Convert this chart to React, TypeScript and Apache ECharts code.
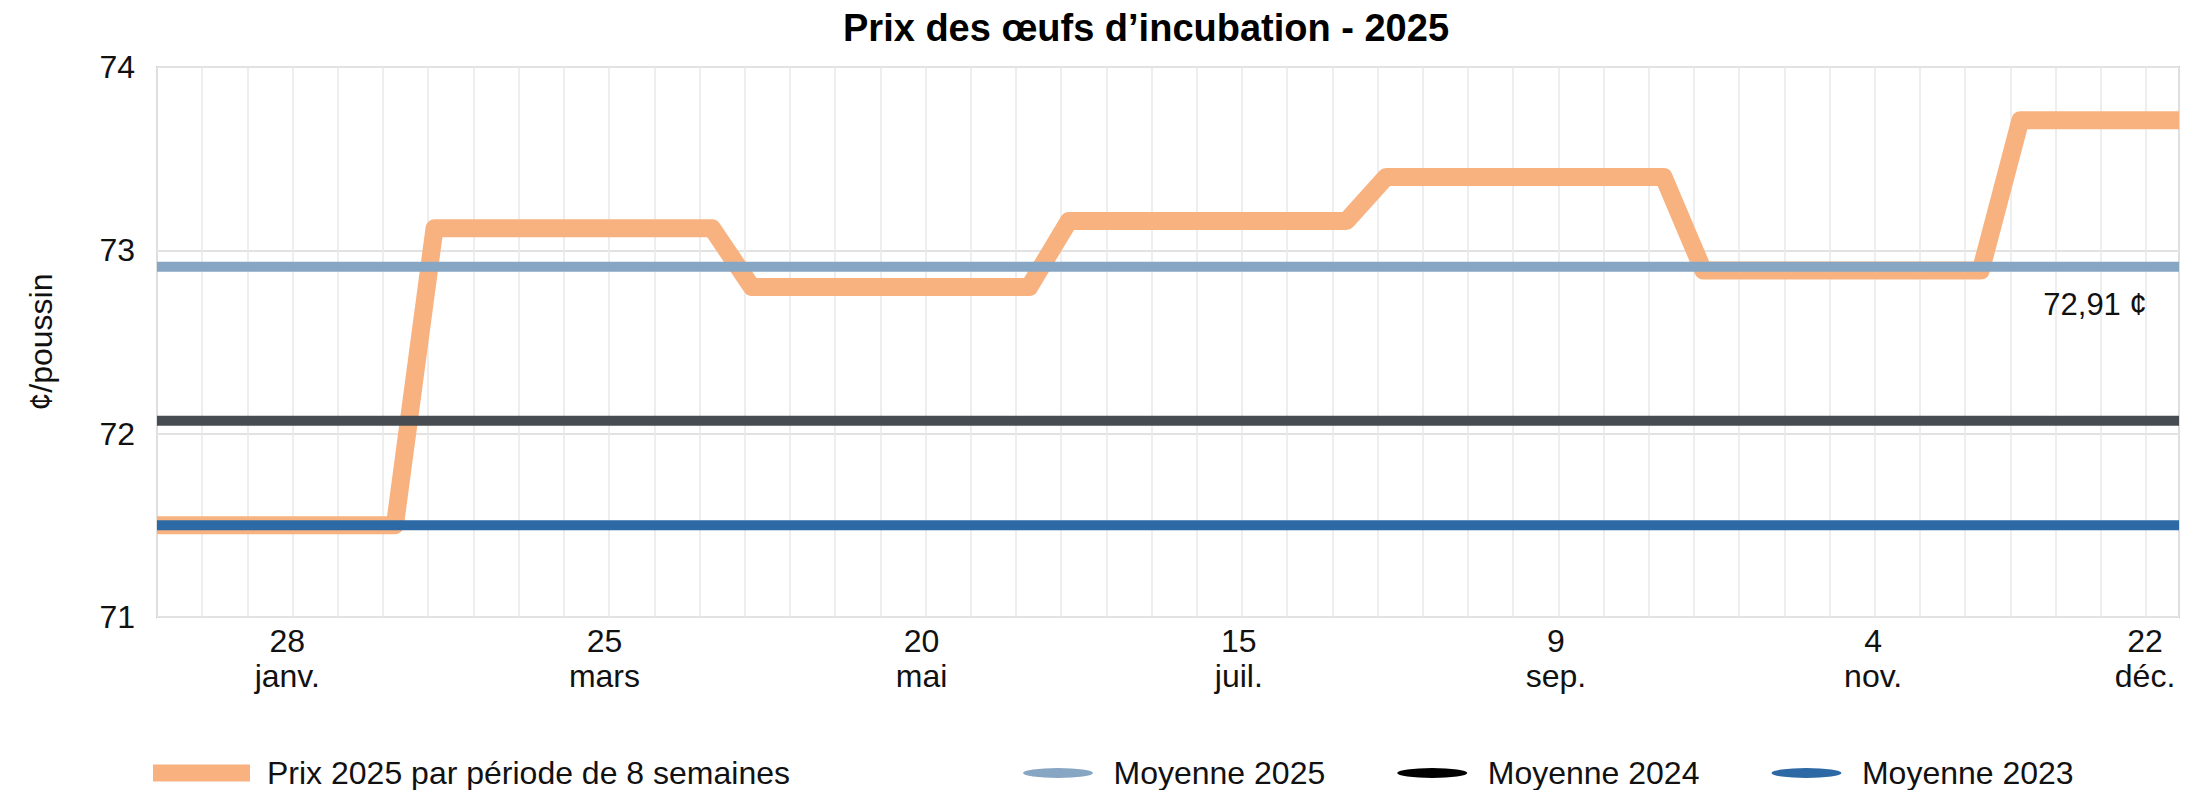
import React, { useEffect, useRef } from "react";
import * as echarts from "echarts";

// Weekly dates (2025)
const weekDates = [
  "2025-01-05", "2025-01-12", "2025-01-19", "2025-01-26",
  "2025-02-02", "2025-02-09", "2025-02-16", "2025-02-23",
  "2025-03-02", "2025-03-09", "2025-03-16", "2025-03-23", "2025-03-30",
  "2025-04-06", "2025-04-13", "2025-04-20", "2025-04-27",
  "2025-05-04", "2025-05-11", "2025-05-18", "2025-05-25",
  "2025-06-01", "2025-06-08", "2025-06-15", "2025-06-22", "2025-06-29",
  "2025-07-06", "2025-07-13", "2025-07-20", "2025-07-27",
  "2025-08-03", "2025-08-10", "2025-08-17", "2025-08-24", "2025-08-31",
  "2025-09-07", "2025-09-14", "2025-09-21", "2025-09-28",
  "2025-10-05", "2025-10-12", "2025-10-19", "2025-10-26",
  "2025-11-02", "2025-11-09", "2025-11-16", "2025-11-23", "2025-11-30",
  "2025-12-07", "2025-12-14", "2025-12-21", "2025-12-28",
];

// Price 2025 per 8-week period (¢/poussin), one value per week
const prices2025 = [
  71.5, 71.5, 71.5, 71.5, 71.5, 71.5, 71.5,
  73.12, 73.12, 73.12, 73.12, 73.12, 73.12, 73.12, 73.12,
  72.8, 72.8, 72.8, 72.8, 72.8, 72.8, 72.8, 72.8,
  73.16, 73.16, 73.16, 73.16, 73.16, 73.16, 73.16, 73.16,
  73.4, 73.4, 73.4, 73.4, 73.4, 73.4, 73.4, 73.4,
  72.89, 72.89, 72.89, 72.89, 72.89, 72.89, 72.89, 72.89,
  73.71, 73.71, 73.71, 73.71, 73.71,
];

const avg2025 = 72.91;
const avg2024 = 72.07;
const avg2023 = 71.5;

const tickDates = ["2025-01-28", "2025-03-25", "2025-05-20", "2025-07-15", "2025-09-09", "2025-11-04", "2025-12-22"];
const tickLabels = ["28\njanv.", "25\nmars", "20\nmai", "15\njuil.", "9\nsep.", "4\nnov.", "22\ndéc."];

const seriesNames = ["Prix 2025 par période de 8 semaines", "Moyenne 2025", "Moyenne 2024", "Moyenne 2023"];
const chartTitle = "Prix des œufs d’incubation - 2025";
const yAxisName = "¢/poussin";

const FONT = "'Liberation Sans', Arial, sans-serif";
const ELLIPSE = "path://M0,5a35,5 0 1,0 70,0a35,5 0 1,0 -70,0z";

const toTs = (s: string) => {
  const [y, m, d] = s.split("-").map(Number);
  return Date.UTC(y, m - 1, d);
};

export default function App() {
  const ref = useRef<HTMLDivElement>(null);

  useEffect(() => {
    if (!ref.current) return;
    const chart = echarts.init(ref.current, undefined, { renderer: "svg" });
    const ts = weekDates.map(toTs);
    const first = ts[0];
    const last = ts[ts.length - 1];
    const tickTs = tickDates.map(toTs);
    const flat = (v: number) => [[first, v], [last, v]];

    const option: any = {
      animation: false,
      backgroundColor: "#fff",
      title: {
        text: chartTitle,
        left: 843,
        top: 9,
        padding: 0,
        textStyle: { fontFamily: FONT, fontSize: 38, fontWeight: "bold", color: "#000" },
      },
      grid: {
        left: 157,
        right: 23,
        top: 67,
        bottom: 173,
        show: true,
        borderColor: "#c4c4c4",
        borderWidth: 2,
        outerBoundsMode: "none",
      },
      legend: [
        {
          data: [{ name: seriesNames[0], icon: "rect" }],
          left: 148,
          top: 752,
          itemWidth: 97,
          itemHeight: 17,
          selectedMode: false,
          textStyle: { fontFamily: FONT, fontSize: 32, color: "#111", padding: [0, 0, 0, 12] },
        },
        {
          data: [
            { name: seriesNames[1], icon: ELLIPSE },
            { name: seriesNames[2], icon: ELLIPSE, itemStyle: { color: "#000" } },
            { name: seriesNames[3], icon: ELLIPSE },
          ],
          left: 1018,
          top: 752,
          itemWidth: 71,
          itemHeight: 10,
          itemGap: 72,
          selectedMode: false,
          textStyle: { fontFamily: FONT, fontSize: 32, color: "#111", padding: [0, 0, 0, 15] },
        },
      ],
      xAxis: [
        {
          type: "value",
          min: first,
          max: last,
          axisLine: { show: false },
          axisTick: { show: false },
          splitLine: { show: false },
          axisLabel: {
            customValues: tickTs,
            fontFamily: FONT,
            fontSize: 32,
            lineHeight: 35,
            color: "#111",
            margin: 6,
            align: "center",
            formatter: (v: number) => {
              const i = tickTs.indexOf(v);
              return i >= 0 ? tickLabels[i] : "";
            },
          },
        },
        {
          type: "value",
          position: "bottom",
          min: 0,
          max: 44.73,
          interval: 1,
          axisLine: { show: false },
          axisTick: { show: false },
          axisLabel: { show: false },
          splitLine: { show: true, lineStyle: { color: "#e8e8e8", width: 1.5 } },
        },
      ],
      yAxis: {
        type: "value",
        min: 71,
        max: 74,
        interval: 1,
        name: yAxisName,
        nameLocation: "middle",
        nameRotate: 90,
        nameGap: 100,
        nameTextStyle: { fontFamily: FONT, fontSize: 32, color: "#111" },
        axisLine: { show: false },
        axisTick: { show: false },
        axisLabel: { fontFamily: FONT, fontSize: 32, color: "#111", margin: 22 },
        splitLine: { show: true, lineStyle: { color: "#e2e2e2", width: 2 } },
      },
      series: [
        {
          name: seriesNames[0],
          type: "line",
          data: ts.map((t, i) => [t, prices2025[i]]),
          showSymbol: false,
          symbol: "none",
          color: "#F9B17F",
          lineStyle: { width: 18, color: "#F8B280", join: "round" },
          z: 2,
        },
        {
          name: seriesNames[1],
          type: "line",
          data: flat(avg2025),
          showSymbol: false,
          symbol: "none",
          color: "#86A6C3",
          lineStyle: { width: 10, color: "#86A6C3" },
          z: 3,
          markPoint: {
            silent: true,
            symbol: "circle",
            symbolSize: 1,
            itemStyle: { color: "rgba(0,0,0,0)" },
            label: {
              show: true,
              position: "inside",
              offset: [-84, 38],
              fontFamily: FONT,
              fontSize: 31,
              color: "#111",
              formatter: () => avg2025.toFixed(2).replace(".", ",") + " ¢",
            },
            data: [{ coord: [last, avg2025] }],
          },
        },
        {
          name: seriesNames[2],
          type: "line",
          data: flat(avg2024),
          showSymbol: false,
          symbol: "none",
          color: "#464C51",
          lineStyle: { width: 10, color: "#464C51" },
          z: 3,
        },
        {
          name: seriesNames[3],
          type: "line",
          data: flat(avg2023),
          showSymbol: false,
          symbol: "none",
          color: "#2D6AA5",
          lineStyle: { width: 10, color: "#2D6AA5" },
          z: 3,
        },
      ],
    };

    chart.setOption(option);
    return () => chart.dispose();
  }, []);

  return (
    <div
      ref={ref}
      style={{ position: "fixed", left: 0, top: 0, width: 2202, height: 790, background: "#fff" }}
    />
  );
}
